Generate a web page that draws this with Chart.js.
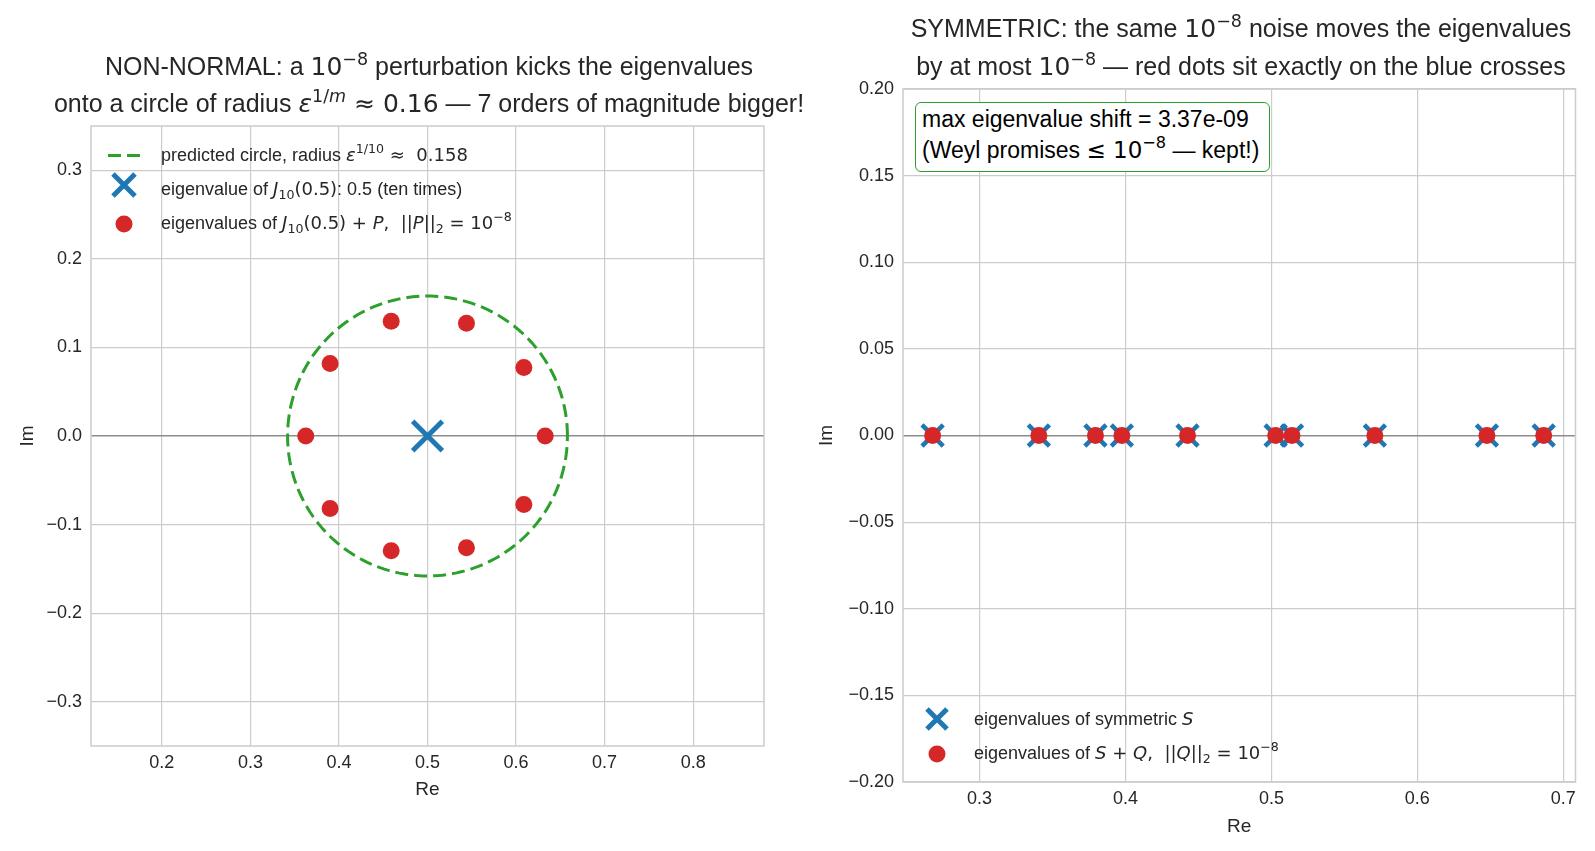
<!DOCTYPE html>
<html>
<head>
<meta charset="utf-8">
<script src="https://cdn.jsdelivr.net/npm/chart.js@4"></script>
<style>
  body { margin: 0; width: 1595px; height: 851px; position: relative; background: #fff; overflow: hidden;
         font-family: 'Liberation Sans', Arial, sans-serif; color: #262626; }
  canvas { position: absolute; top: 0; }
  .t { position: absolute; text-align: center; font-size: 25px; line-height: 30px; white-space: nowrap; }
  .m { font-family: 'DejaVu Sans', sans-serif; }
  .mi { font-family: 'DejaVu Sans', sans-serif; font-style: italic; }
  sup { font-size: 70%; vertical-align: 0; position: relative; top: -0.6em; }
  sub { font-size: 70%; vertical-align: 0; position: relative; top: 0.3em; }
  .lg { position: absolute; font-size: 18px; line-height: 24px; white-space: nowrap; }
  .box { position: absolute; left: 915px; top: 102px; width: 355px; height: 70px; border: 1.5px solid #2ca02c;
         border-radius: 6px; background: #fff; font-size: 23px; line-height: 31px; padding-left: 6px; padding-top: 1px;
         box-sizing: border-box; white-space: nowrap; color: #000; }
</style>
</head>
<body>
<canvas id="ticketChart" width="790" height="851" style="left:0"></canvas>
<canvas id="ticketChart2" width="805" height="851" style="left:790px"></canvas>

<div class="t" style="left:0;width:858px;top:51px">NON-NORMAL: a <span class="m">10<sup>−8</sup></span> perturbation kicks the eigenvalues</div>
<div class="t" style="left:0;width:858px;top:88px">onto a circle of radius <span class="mi">ε</span><span class="m"><sup>1/<i>m</i></sup> ≈ 0.16</span> — 7 orders of magnitude bigger!</div>
<div class="t" style="left:790px;width:902px;top:13px">SYMMETRIC: the same <span class="m">10<sup>−8</sup></span> noise moves the eigenvalues</div>
<div class="t" style="left:790px;width:902px;top:51px">by at most <span class="m">10<sup>−8</sup></span> — red dots sit exactly on the blue crosses</div>

<!-- left legend -->
<svg style="position:absolute;left:105px;top:146px" width="40" height="90">
  <line x1="3" y1="9.5" x2="37" y2="9.5" stroke="#2ca02c" stroke-width="3" stroke-dasharray="13 6"/>
  <path d="M8 28 L30 50 M30 28 L8 50" stroke="#1f77b4" stroke-width="5"/>
  <circle cx="19" cy="78" r="8.5" fill="#d62728"/>
</svg>
<div class="lg" style="left:161px;top:143px">predicted circle, radius <span class="mi">ε</span><span class="m"><sup>1/10</sup> ≈ &nbsp;0.158</span></div>
<div class="lg" style="left:161px;top:177px">eigenvalue of <span class="mi">J</span><sub class="m">10</sub><span class="m">(0.5)</span>: 0.5 (ten times)</div>
<div class="lg" style="left:161px;top:211px">eigenvalues of <span class="mi">J</span><sub class="m">10</sub><span class="m">(0.5) + <i>P</i>, &nbsp;||<i>P</i>||<sub>2</sub> = 10<sup>−8</sup></span></div>

<!-- right legend -->
<svg style="position:absolute;left:918px;top:704px" width="40" height="64">
  <path d="M9 5 L29 25 M29 5 L9 25" stroke="#1f77b4" stroke-width="5"/>
  <circle cx="19" cy="50" r="8.5" fill="#d62728"/>
</svg>
<div class="lg" style="left:974px;top:707px">eigenvalues of symmetric <span class="mi">S</span></div>
<div class="lg" style="left:974px;top:741px">eigenvalues of <span class="m"><i>S</i> + <i>Q</i>, &nbsp;||<i>Q</i>||<sub>2</sub> = 10<sup>−8</sup></span></div>

<div class="box"><div>max eigenvalue shift = 3.37e-09</div><div>(Weyl promises <span class="m">≤ 10<sup>−8</sup></span> — kept!)</div></div>

<script>
// non-normal case: Jordan block J10(0.5) and its perturbed eigenvalues
const jordanEig = [0.5];
const pertRe = [0.6329, 0.6088, 0.5440, 0.4590, 0.3900, 0.3625, 0.3900, 0.4590, 0.5440, 0.6088];
const pertIm = [0.0, 0.0773, 0.1273, 0.1295, 0.0818, 0.0, -0.0818, -0.1295, -0.1262, -0.0773];
const circleCenter = 0.5;
const circleRadius = 0.158;   // eps^(1/10)

// symmetric case
const symEig = [0.2678, 0.3406, 0.3794, 0.3975, 0.4425, 0.5029, 0.5141, 0.5709, 0.6477, 0.6866];
const symPertEig = [0.2678, 0.3406, 0.3794, 0.3975, 0.4425, 0.5029, 0.5141, 0.5709, 0.6477, 0.6866];

// ticks
const leftXTicks = [0.2, 0.3, 0.4, 0.5, 0.6, 0.7, 0.8];
const leftYTicks = [-0.3, -0.2, -0.1, 0.0, 0.1, 0.2, 0.3];
const rightXTicks = [0.3, 0.4, 0.5, 0.6, 0.7];
const rightYTicks = [-0.20, -0.15, -0.10, -0.05, 0.0, 0.05, 0.10, 0.15, 0.20];

const BLUE = '#1f77b4', RED = '#d62728', GREEN = '#2ca02c', GRID = '#cccccc';
const tickFont = { family: "'Liberation Sans', Arial, sans-serif", size: 18 };
const labelFont = { family: "'Liberation Sans', Arial, sans-serif", size: 19 };

function fmt(d) {
  return v => (Math.abs(v) < 1e-9 ? 0 : v).toFixed(d).replace('-', '\u2212');
}
function setTicks(arr) {
  return axis => { axis.ticks = arr.map(v => ({ value: v })); };
}
function gridColor(ctx) {
  return ctx.tick && Math.abs(ctx.tick.value) < 1e-9 && ctx.scale.axis === 'y' ? '#8c8c8c' : GRID;
}
function gridWidth(ctx) {
  return ctx.tick && Math.abs(ctx.tick.value) < 1e-9 && ctx.scale.axis === 'y' ? 1.4 : 1.2;
}

const framePlugin = {
  id: 'frame',
  beforeDatasetsDraw(chart) {
    const a = chart.chartArea, c = chart.ctx;
    c.save();
    c.strokeStyle = GRID;
    c.lineWidth = 1.5;
    c.strokeRect(a.left, a.top, a.right - a.left, a.bottom - a.top);
    c.restore();
  }
};

function axisCfg(min, max, ticks, dec, title, size, titlePad, tickPad) {
  return {
    type: 'linear', min: min, max: max,
    afterBuildTicks: setTicks(ticks),
    afterFit: s => { if (s.isHorizontal()) s.height = size; else s.width = size; },
    grid: { color: gridColor, lineWidth: gridWidth, drawTicks: false },
    border: { display: false },
    ticks: { font: tickFont, color: '#262626', padding: tickPad, callback: fmt(dec) },
    title: { display: true, text: title, font: labelFont, color: '#262626', padding: titlePad }
  };
}

// circle drawn as a line through the scales
const circlePts = [];
for (let i = 0; i <= 240; i++) {
  const a = i / 240 * 2 * Math.PI;
  circlePts.push({ x: circleCenter + circleRadius * Math.cos(a), y: circleRadius * Math.sin(a) });
}

const ctx = document.getElementById('ticketChart').getContext('2d');
new Chart(ctx, {
  type: 'scatter',
  data: {
    datasets: [{
      label: 'eigenvalues of J10(0.5)+P',
      data: pertRe.map((x, i) => ({ x: x, y: pertIm[i] })),
      backgroundColor: RED, borderColor: RED, pointRadius: 8.5, borderWidth: 0, order: 0
    }, {
      label: 'eigenvalue of J10(0.5)',
      data: jordanEig.map(x => ({ x: x, y: 0 })),
      pointStyle: 'crossRot', pointRadius: 21, borderColor: BLUE, borderWidth: 5, order: 1
    }, {
      label: 'predicted circle',
      data: circlePts, showLine: true, pointRadius: 0,
      borderColor: GREEN, borderWidth: 3, borderDash: [13, 6], order: 2
    }]
  },
  options: {
    responsive: false, animation: false,
    layout: { padding: { top: 126, right: 23, left: 0, bottom: 0 } },
    plugins: { legend: { display: false }, tooltip: { enabled: false } },
    scales: {
      x: axisCfg(0.12, 0.88, leftXTicks, 1, 'Re', 105, { top: 0, bottom: 50 }, 6),
      y: axisCfg(-0.35, 0.35, leftYTicks, 1, 'Im', 91, { top: 16, bottom: 0 }, 9)
    }
  },
  plugins: [framePlugin]
});

const ctx2 = document.getElementById('ticketChart2').getContext('2d');
new Chart(ctx2, {
  type: 'scatter',
  data: {
    datasets: [{
      label: 'eigenvalues of S+Q',
      data: symPertEig.map(x => ({ x: x, y: 0 })),
      backgroundColor: RED, borderColor: RED, pointRadius: 8.5, borderWidth: 0, order: 0
    }, {
      label: 'eigenvalues of symmetric S',
      data: symEig.map(x => ({ x: x, y: 0 })),
      pointStyle: 'crossRot', pointRadius: 15, borderColor: BLUE, borderWidth: 4.5, order: 1
    }]
  },
  options: {
    responsive: false, animation: false,
    layout: { padding: { top: 89, right: 16, left: 0, bottom: 0 } },
    plugins: { legend: { display: false }, tooltip: { enabled: false } },
    scales: {
      x: axisCfg(0.2475, 0.7084, rightXTicks, 1, 'Re', 69, { top: 0, bottom: 13 }, 6),
      y: axisCfg(-0.2, 0.2, rightYTicks, 2, 'Im', 113, { top: 25, bottom: 0 }, 9)
    }
  },
  plugins: [framePlugin]
});
</script>
</body>
</html>
